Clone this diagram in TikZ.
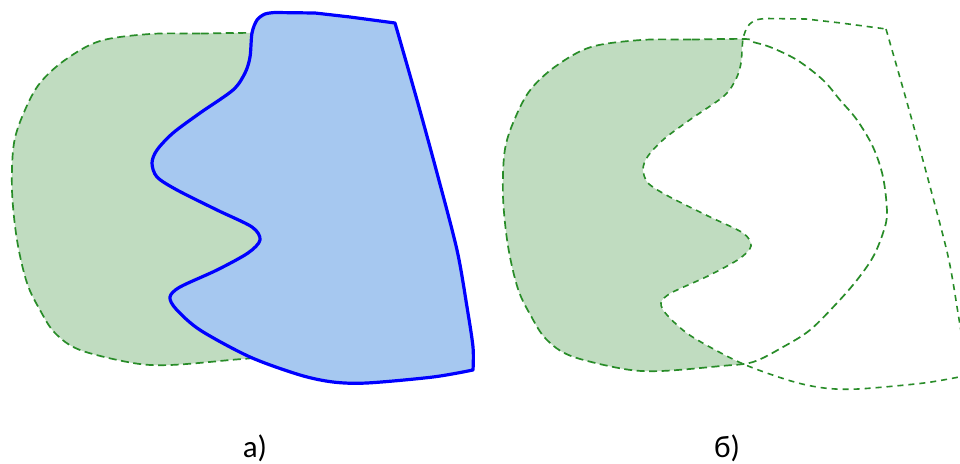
\documentclass[tikz,border=0pt]{standalone}
\usepackage{fontspec}
\setmainfont{Carlito}
\definecolor{gline}{RGB}{40,140,40}
\definecolor{gfill}{RGB}{192,220,192}
\definecolor{bfill}{RGB}{166,200,240}
\definecolor{bline}{RGB}{0,0,255}
\tikzset{
  gdash/.style={draw=gline, line width=1.7pt, dash pattern=on 8pt off 4.5pt},
  bdash/.style={draw=gline, line width=1.6pt, dash pattern=on 6pt off 5pt},
  bsolid/.style={draw=bline, line width=3.2pt, line join=round},
  lab/.style={font=\fontsize{31}{34}\selectfont, anchor=base, inner sep=0pt}
}
\newcommand{\greenblob}{%
  plot[smooth cycle, tension=0.55] coordinates {(254,33) (200,33.5) (150,34) (100,41) (65,60) (40,83) (25,110) (14,143) (12,190) (17,240) (27,283) (40,310) (55,333) (80,350) (133,363) (170,365) (230,360) (262,356) (292,341) (319,324) (346,297) (366,274) (382,251) (392,227) (396,207) (392,171) (382,141) (366,114) (349,94) (332,74) (306,54) (279,41) (262,36)}}
\newcommand{\blueshape}{%
  plot[smooth, tension=0.5] coordinates {(395,23) (417,100) (437,173) (457,250) (467,307) (473,347) (473,370)}
  -- plot[smooth, tension=0.5] coordinates {(473,370) (433,377) (367,383) (333,382) (300,375) (250,357) (200,330) (176,309) (170,297) (180,287) (217,270) (248,253) (260,240) (252,227) (217,210) (177,190) (157,177) (152,163) (157,150) (173,133) (200,113) (233,90) (245,73) (250,57) (252,33) (257,20) (265,14) (275,12.5)}
  -- (315,13) -- (350,17) -- cycle}
\begin{document}
\begin{tikzpicture}[x=1pt,y=-1pt]
\useasboundingbox (0,0) rectangle (960,463);
% panel a
\fill[gfill] \greenblob;
\path[gdash] \greenblob;
\fill[bfill] \blueshape;
\path[bsolid] \blueshape;
\node[lab] (la) at (255,457) {а)};
% panel b
\begin{scope}[shift={(491,6)}]
\fill[gfill] \greenblob;
\fill[white] \blueshape;
\path[gdash] \greenblob;
\path[bdash] \blueshape;
\end{scope}
\node[lab] (lb) at (727,457) {б)};
\end{tikzpicture}
\end{document}
